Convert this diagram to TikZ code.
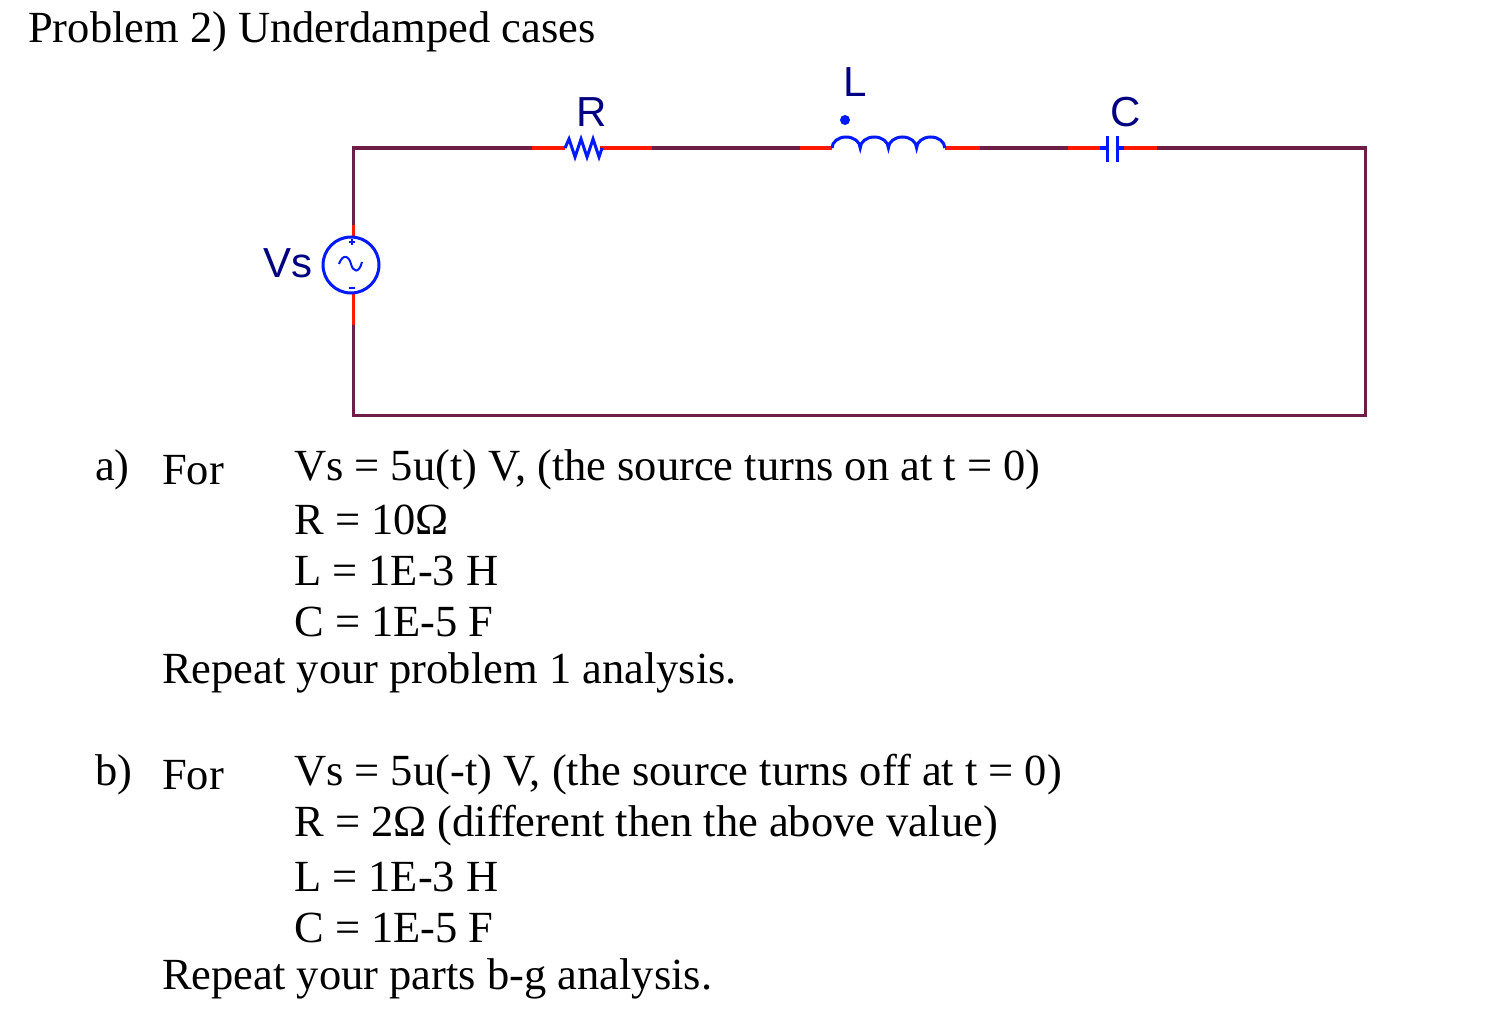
\documentclass[tikz,border=0pt]{standalone}
\usepackage{fontspec}
\setmainfont{Liberation Serif}
\newfontfamily\lab{Liberation Sans}
\begin{document}
\begin{tikzpicture}[x=1pt,y=-1pt,
 lead/.style={draw=red!80!orange,line width=3pt},
 comp/.style={draw=blue!90!cyan,line width=3pt},
 txt/.style={font=\fontsize{44.5}{44.5}\selectfont,anchor=west,inner sep=0},
 clab/.style={font=\lab\fontsize{42}{42}\selectfont,text=blue!50!black,inner sep=0}]
\useasboundingbox (0,0) rectangle (1504,1022);
\definecolor{wirec}{RGB}{110,30,70}
\tikzset{wire/.style={draw=wirec,line width=3pt}}
\node[txt] (title) at (28,32) {Problem 2) Underdamped cases};
% wires
\coordinate (tl) at (353,148); \coordinate (tr) at (1365,148);
\coordinate (bl) at (353,415); \coordinate (br) at (1365,415);
\draw[wire] (353,225) -- (tl) -- (532,148);
\draw[wire] (652,148) -- (800,148);
\draw[wire] (980,148) -- (1068,148);
\draw[wire] (1157,148) -- (tr) -- (br) -- (bl) -- (353,325);
% source
\draw[lead] (353,225) -- (353,237);
\draw[lead] (353,293) -- (353,325);
\node[comp,circle,minimum size=56pt,inner sep=0] (vs) at (351,265) {};
\draw[comp,line width=2pt] (339,264) .. controls (343,253) and (349,256) .. (351,264) .. controls (353,272) and (359,274) .. (362,262);
\draw[comp,line width=1.5pt] (349,242)--(355,242) (352,239)--(352,245) (349,288)--(355,288);
\node[clab] (vsl) at (288,263) {Vs};
% resistor
\draw[lead] (532,148) -- (565,148);
\draw[lead] (600,148) -- (652,148);
\draw[comp] (565,148) -- (569,139) -- (575,157) -- (581,139) -- (587,157) -- (593,139) -- (599,157) -- (602,148);
\node[clab] (rl) at (592,112) {R};
% inductor
\draw[lead] (800,148) -- (832,148);
\draw[lead] (945,148) -- (980,148);
\draw[comp] (832,148) arc (180:360:14.1 and 11) arc (180:360:14.1 and 11) arc (180:360:14.1 and 11) arc (180:360:14.1 and 11);
\fill[blue!90!cyan] (845,120) circle (5);
\node[clab] (ll) at (855,82) {L};
% capacitor
\draw[lead] (1068,148) -- (1102,148);
\draw[lead] (1122,148) -- (1157,148);
\draw[comp] (1107,136) -- (1107,162) (1117,136) -- (1117,162);
\draw[comp] (1100,148)--(1107,148) (1117,148)--(1124,148);
\node[clab] (cl) at (1126,112) {C};
% text
\foreach \y/\l/\f/\t in {470/a)/For/{Vs = 5u(t) V, (the source turns on at t = 0)},775/b)/For/{Vs = 5u(-t) V, (the source turns off at t = 0)}}{
 \node[txt] at (95,\y) {\l}; \node[txt] at (162,\y) {\f}; \node[txt] at (294,\y) {\t};}
\node[txt] (a2) at (294,520) {R = 10Ω};
\node[txt] (a3) at (294,571) {L = 1E-3 H};
\node[txt] (a4) at (294,622) {C = 1E-5 F};
\node[txt] (a5) at (162,673) {Repeat your problem 1 analysis.};
\node[txt] (b2) at (294,826) {R = 2Ω (different then the above value)};
\node[txt] (b3) at (294,877) {L = 1E-3 H};
\node[txt] (b4) at (294,928) {C = 1E-5 F};
\node[txt] (b5) at (162,979) {Repeat your parts b-g analysis.};
\end{tikzpicture}
\end{document}
